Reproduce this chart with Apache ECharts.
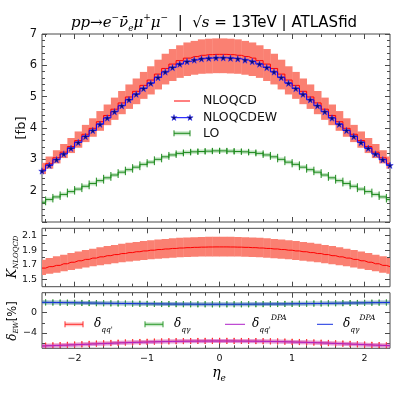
<!DOCTYPE html>
<html>
<head>
<meta charset="utf-8">
<script src="https://cdn.jsdelivr.net/npm/echarts@6/dist/echarts.min.js"></script>
<style>
  html, body { margin: 0; padding: 0; background: #fff; }
  #chart { width: 399px; height: 399px; }
</style>
</head>
<body>
<div id="chart"></div>
<script>
// bin centres in eta_e (bin width 0.1)
const etaBins = [-2.45,-2.35,-2.25,-2.15,-2.05,-1.95,-1.85,-1.75,-1.65,-1.55,-1.45,-1.35,-1.25,-1.15,-1.05,-0.95,-0.85,-0.75,-0.65,-0.55,-0.45,-0.35,-0.25,-0.15,-0.05,
  0.05,0.15,0.25,0.35,0.45,0.55,0.65,0.75,0.85,0.95,1.05,1.15,1.25,1.35,1.45,1.55,1.65,1.75,1.85,1.95,2.05,2.15,2.25,2.35];
const BIN = 0.1;

// top panel [fb]
const nloqcd = [2.68,2.86,3.05,3.23,3.41,3.60,3.80,3.99,4.20,4.40,4.60,4.80,4.99,5.17,5.36,5.53,5.72,5.90,6.04,6.15,6.23,6.28,6.32,6.34,6.35,
  6.35,6.34,6.32,6.28,6.23,6.15,6.04,5.90,5.72,5.53,5.36,5.17,4.99,4.80,4.60,4.40,4.20,3.99,3.80,3.60,3.41,3.23,3.05,2.86];
const nloqcdUp = [2.89,3.09,3.29,3.49,3.68,3.89,4.10,4.31,4.54,4.75,4.97,5.18,5.39,5.58,5.79,5.97,6.18,6.37,6.52,6.64,6.73,6.78,6.83,6.85,6.86,
  6.86,6.85,6.83,6.78,6.73,6.64,6.52,6.37,6.18,5.97,5.79,5.58,5.39,5.18,4.97,4.75,4.54,4.31,4.10,3.89,3.68,3.49,3.29,3.09];
const nloqcdLo = [2.53,2.70,2.87,3.04,3.20,3.37,3.55,3.72,3.91,4.09,4.26,4.44,4.61,4.76,4.93,5.07,5.23,5.39,5.50,5.60,5.66,5.70,5.73,5.74,5.75,
  5.75,5.74,5.73,5.70,5.66,5.60,5.50,5.39,5.23,5.07,4.93,4.76,4.61,4.44,4.26,4.09,3.91,3.72,3.55,3.37,3.20,3.04,2.87,2.70];
const nloqcdew = [2.63,2.81,2.99,3.17,3.35,3.54,3.73,3.92,4.12,4.32,4.52,4.71,4.90,5.08,5.26,5.43,5.61,5.79,5.93,6.04,6.12,6.17,6.21,6.23,6.24,
  6.24,6.23,6.21,6.17,6.12,6.04,5.93,5.79,5.61,5.43,5.26,5.08,4.90,4.71,4.52,4.32,4.12,3.92,3.73,3.54,3.35,3.17,2.99,2.81];
const lo = [1.63,1.72,1.80,1.88,1.97,2.05,2.14,2.23,2.32,2.41,2.50,2.59,2.67,2.75,2.84,2.91,3.00,3.08,3.14,3.19,3.22,3.24,3.25,3.26,3.27,
  3.27,3.26,3.25,3.24,3.22,3.19,3.14,3.08,3.00,2.91,2.84,2.75,2.67,2.59,2.50,2.41,2.32,2.23,2.14,2.05,1.97,1.88,1.80,1.72];

// middle panel K factor
const kfac = [1.655,1.675,1.692,1.714,1.735,1.755,1.774,1.792,1.809,1.825,1.840,1.854,1.867,1.879,1.890,1.900,1.909,1.917,1.924,1.930,1.935,1.939,1.942,1.944,1.945,
  1.945,1.944,1.942,1.939,1.935,1.930,1.924,1.917,1.909,1.900,1.890,1.879,1.867,1.854,1.840,1.825,1.809,1.792,1.774,1.755,1.735,1.714,1.692,1.675];
const kfacUp = [1.770,1.792,1.816,1.839,1.861,1.882,1.902,1.921,1.939,1.956,1.972,1.987,2.001,2.014,2.026,2.036,2.046,2.055,2.062,2.069,2.074,2.078,2.082,2.084,2.085,
  2.085,2.084,2.082,2.078,2.074,2.069,2.062,2.055,2.046,2.036,2.026,2.014,2.001,1.987,1.972,1.956,1.939,1.921,1.902,1.882,1.861,1.839,1.816,1.792];
const kfacLo = [1.560,1.578,1.590,1.610,1.629,1.647,1.664,1.680,1.695,1.709,1.722,1.735,1.746,1.757,1.767,1.776,1.784,1.791,1.797,1.802,1.806,1.810,1.812,1.814,1.815,
  1.815,1.814,1.812,1.810,1.806,1.802,1.797,1.791,1.784,1.776,1.767,1.757,1.746,1.735,1.722,1.709,1.695,1.680,1.664,1.647,1.629,1.610,1.590,1.578];

// bottom panel delta_EW [%]
const dQQ = [-6.62,-6.56,-6.50,-6.45,-6.39,-6.33,-6.27,-6.20,-6.14,-6.08,-6.02,-5.97,-5.92,-5.87,-5.83,-5.79,-5.75,-5.72,-5.69,-5.67,-5.65,-5.64,-5.63,-5.62,-5.62,
  -5.62,-5.62,-5.63,-5.64,-5.65,-5.67,-5.69,-5.72,-5.75,-5.79,-5.83,-5.87,-5.92,-5.97,-6.02,-6.08,-6.14,-6.20,-6.27,-6.33,-6.39,-6.45,-6.50,-6.56];
const dQQdpa = [-6.63,-6.58,-6.53,-6.48,-6.42,-6.36,-6.30,-6.24,-6.18,-6.12,-6.06,-6.01,-5.96,-5.91,-5.87,-5.83,-5.79,-5.76,-5.73,-5.71,-5.69,-5.68,-5.67,-5.66,-5.66,
  -5.66,-5.66,-5.67,-5.68,-5.69,-5.71,-5.73,-5.76,-5.79,-5.83,-5.87,-5.91,-5.96,-6.01,-6.06,-6.12,-6.18,-6.24,-6.30,-6.36,-6.42,-6.48,-6.53,-6.58];
const dQA = [2.07,2.05,2.03,2.01,1.99,1.96,1.94,1.92,1.90,1.88,1.86,1.84,1.82,1.80,1.78,1.76,1.75,1.73,1.72,1.71,1.70,1.69,1.69,1.68,1.68,
  1.68,1.68,1.69,1.69,1.70,1.71,1.72,1.73,1.75,1.76,1.78,1.80,1.82,1.84,1.86,1.88,1.90,1.92,1.94,1.96,1.99,2.01,2.03,2.05];
const dQAdpa = [2.08,2.06,2.04,2.02,2.00,1.97,1.95,1.93,1.91,1.89,1.87,1.85,1.83,1.81,1.80,1.78,1.76,1.75,1.74,1.73,1.72,1.71,1.70,1.70,1.70,
  1.70,1.70,1.70,1.71,1.72,1.73,1.74,1.75,1.76,1.78,1.80,1.81,1.83,1.85,1.87,1.89,1.91,1.93,1.95,1.97,2.00,2.02,2.04,2.06];

// axis ticks
const X_MIN = -2.45, X_MAX = 2.35;
const xMajor = [-2, -1, 0, 1, 2];
const xMinor = [-2.4,-2.2,-1.8,-1.6,-1.4,-1.2,-0.8,-0.6,-0.4,-0.2,0.2,0.4,0.6,0.8,1.2,1.4,1.6,1.8,2.2];

const panels = [
  { top: 34, height: 188, min: 1, max: 7, major: [1,2,3,4,5,6,7],
    minor: [1.2,1.4,1.6,1.8,2.2,2.4,2.6,2.8,3.2,3.4,3.6,3.8,4.2,4.4,4.6,4.8,5.2,5.4,5.6,5.8,6.2,6.4,6.6,6.8],
    labels: [2,3,4,5,6,7], fs: 11.5 },
  { top: 228.3, height: 58.4, min: 1.4, max: 2.2, major: [1.5,1.7,1.9,2.1], minor: [1.6,1.8,2.0],
    labels: [1.5,1.7,1.9,2.1], fs: 9.5 },
  { top: 292.7, height: 55.6, min: -7.1, max: 4, major: [-4,0], minor: [-6,-2,2],
    labels: [-4,0], fs: 9.5 }
];

const FRAME = '#4a4a4a';
const fmt = v => (v < 0 ? '\u2212' : '') + Math.abs(v);

const grids = [], xAxes = [], yAxes = [], mainX = [], mainY = [];

function tickAxis(grid, pos, min, max, ticks, len, labels, fs) {
  return {
    type: 'value', gridIndex: grid, position: pos, min: min, max: max,
    axisLine: { show: false, onZero: false },
    splitLine: { show: false },
    axisTick: { show: true, inside: true, length: len, customValues: ticks, lineStyle: { color: FRAME, width: 1 } },
    axisLabel: labels ? { show: true, customValues: labels, fontSize: fs, color: '#111', fontFamily: 'DejaVu Sans', margin: 5, formatter: fmt }
                      : { show: false }
  };
}

panels.forEach((p, g) => {
  grids.push({ left: 42, width: 348, top: p.top, height: p.height, show: true, borderColor: FRAME, borderWidth: 1, backgroundColor: 'transparent' });
  mainX.push(xAxes.length);
  xAxes.push(tickAxis(g, 'bottom', X_MIN, X_MAX, xMajor, 5, g === 2 ? xMajor : null, 9.5));
  xAxes.push(tickAxis(g, 'bottom', X_MIN, X_MAX, xMinor, 3));
  xAxes.push(tickAxis(g, 'top', X_MIN, X_MAX, xMajor, 5));
  xAxes.push(tickAxis(g, 'top', X_MIN, X_MAX, xMinor, 3));
  mainY.push(yAxes.length);
  yAxes.push(tickAxis(g, 'left', p.min, p.max, p.major, 5, p.labels, p.fs));
  yAxes.push(tickAxis(g, 'left', p.min, p.max, p.minor, 3));
  yAxes.push(tickAxis(g, 'right', p.min, p.max, p.major, 5));
  yAxes.push(tickAxis(g, 'right', p.min, p.max, p.minor, 3));
});

function coordRect(params) {
  return { x: params.coordSys.x, y: params.coordSys.y, width: params.coordSys.width, height: params.coordSys.height };
}

// filled band drawn bin by bin
function bandItem(color) {
  return function (params, api) {
    const x = api.value(0);
    const a = api.coord([x - BIN / 2, api.value(2)]);
    const b = api.coord([x + BIN / 2, api.value(1)]);
    const shape = echarts.graphic.clipRectByRect(
      { x: a[0], y: a[1], width: b[0] - a[0] + 0.4, height: b[1] - a[1] }, coordRect(params));
    return shape && { type: 'rect', shape: shape, style: { fill: color } };
  };
}

// horizontal error bar spanning the bin, with caps at the edges
function errItem(color, pale) {
  return function (params, api) {
    const x = api.value(0), y = api.value(1);
    const a = api.coord([x - BIN / 2, y]);
    const b = api.coord([x + BIN / 2, y]);
    const halo = echarts.graphic.clipRectByRect({ x: a[0], y: a[1] - 2, width: b[0] - a[0], height: 4 }, coordRect(params));
    const kids = [];
    if (halo) kids.push({ type: 'rect', shape: halo, style: { fill: pale } });
    kids.push({ type: 'line', shape: { x1: a[0], y1: a[1], x2: b[0], y2: b[1] }, style: { stroke: color, lineWidth: 1 } });
    kids.push({ type: 'line', shape: { x1: a[0], y1: a[1] - 3, x2: a[0], y2: a[1] + 3 }, style: { stroke: color, lineWidth: 1 } });
    kids.push({ type: 'line', shape: { x1: b[0], y1: b[1] - 3, x2: b[0], y2: b[1] + 3 }, style: { stroke: color, lineWidth: 1 } });
    return { type: 'group', children: kids };
  };
}

const STAR = 'path://M50,0 L61,35 L98,35 L68,57 L79,91 L50,70 L21,91 L32,57 L2,35 L39,35 Z';
const STAR_PTS = [[50,0],[61,35],[98,35],[68,57],[79,91],[50,70],[21,91],[32,57],[2,35],[39,35]];
const pts = arr => etaBins.map((x, i) => [x, arr[i]]);
const band = (lo_, hi_) => etaBins.map((x, i) => [x, lo_[i], hi_[i]]);

const series = [
  { type: 'custom', name: 'NLOQCD band', xAxisIndex: mainX[0], yAxisIndex: mainY[0], renderItem: bandItem('#fa8072'), data: band(nloqcdLo, nloqcdUp), clip: true, z: 1 },
  { type: 'custom', name: 'LO', xAxisIndex: mainX[0], yAxisIndex: mainY[0], renderItem: errItem('#1f8a1f', 'rgba(60,170,60,0.3)'), data: pts(lo), clip: true, z: 2 },
  { type: 'line', name: 'NLOQCD', xAxisIndex: mainX[0], yAxisIndex: mainY[0], step: 'middle', data: pts(nloqcd), symbol: 'none', lineStyle: { color: '#ff0000', width: 1 }, z: 3 },
  { type: 'line', name: 'NLOQCDEW', xAxisIndex: mainX[0], yAxisIndex: mainY[0], step: 'middle', data: pts(nloqcdew), symbol: STAR, symbolSize: 6.5,
    itemStyle: { color: '#0b0b6e', borderColor: '#2a2aff', borderWidth: 0.5 }, lineStyle: { color: '#0000ff', width: 1 }, z: 4 },

  { type: 'custom', name: 'K band', xAxisIndex: mainX[1], yAxisIndex: mainY[1], renderItem: bandItem('#fa8072'), data: band(kfacLo, kfacUp), clip: true, z: 1 },
  { type: 'line', name: 'K', xAxisIndex: mainX[1], yAxisIndex: mainY[1], step: 'middle', data: pts(kfac), symbol: 'none', lineStyle: { color: '#ff0000', width: 1 }, z: 3 },

  { type: 'custom', name: 'dqq', xAxisIndex: mainX[2], yAxisIndex: mainY[2], renderItem: errItem('#ff2a2a', 'rgba(255,90,90,0.35)'), data: pts(dQQ), clip: true, z: 2 },
  { type: 'custom', name: 'dqa', xAxisIndex: mainX[2], yAxisIndex: mainY[2], renderItem: errItem('#2e9a2e', 'rgba(60,170,60,0.3)'), data: pts(dQA), clip: true, z: 2 },
  { type: 'line', name: 'dqq dpa halo', xAxisIndex: mainX[2], yAxisIndex: mainY[2], step: 'middle', data: pts(dQQdpa), symbol: 'none', lineStyle: { color: 'rgba(190,90,225,0.45)', width: 4 }, z: 3 },
  { type: 'line', name: 'dqq dpa', xAxisIndex: mainX[2], yAxisIndex: mainY[2], step: 'middle', data: pts(dQQdpa), symbol: 'none', lineStyle: { color: '#b020c8', width: 1 }, z: 4 },
  { type: 'line', name: 'dqa dpa halo', xAxisIndex: mainX[2], yAxisIndex: mainY[2], step: 'middle', data: pts(dQAdpa), symbol: 'none', lineStyle: { color: 'rgba(80,100,230,0.35)', width: 4 }, z: 3 },
  { type: 'line', name: 'dqa dpa', xAxisIndex: mainX[2], yAxisIndex: mainY[2], step: 'middle', data: pts(dQAdpa), symbol: 'none', lineStyle: { color: '#1530e0', width: 1 }, z: 4 }
];

// text and legends
const SERIF = 'DejaVu Serif', SANS = 'DejaVu Sans';
const mathRich = {
  m: { fontFamily: SERIF, fontStyle: 'italic', fontSize: 15, color: '#111' },
  u: { fontFamily: SERIF, fontSize: 15, color: '#111' },
  s: { fontFamily: SERIF, fontStyle: 'italic', fontSize: 9, color: '#111', verticalAlign: 'top', lineHeight: 20 },
  b: { fontFamily: SERIF, fontStyle: 'italic', fontSize: 9, color: '#111', verticalAlign: 'bottom', lineHeight: 20 },
  n: { fontFamily: SANS, fontSize: 15, color: '#111' }
};

function seg(x1, y1, x2, y2, color, w) {
  return { type: 'line', shape: { x1: x1, y1: y1, x2: x2, y2: y2 }, style: { stroke: color, lineWidth: w || 1 }, silent: true };
}
function txt(x, y, text, extra) {
  return { type: 'text', x: x, y: y, style: Object.assign({ text: text, fill: '#111', fontFamily: SANS, fontSize: 12.5, verticalAlign: 'middle' }, extra || {}) };
}
function star(x, y) {
  return { type: 'polygon', shape: { points: STAR_PTS.map(p => [x + (p[0] - 50) * 0.065, y + (p[1] - 48) * 0.065]) },
           style: { fill: '#0b0b6e', stroke: '#2a2aff', lineWidth: 0.5 } };
}
function capLegend(x1, x2, y, color, pale) {
  return [
    { type: 'rect', shape: { x: x1, y: y - 2, width: x2 - x1, height: 4 }, style: { fill: pale } },
    seg(x1, y, x2, y, color), seg(x1, y - 3, x1, y + 3, color), seg(x2, y - 3, x2, y + 3, color)
  ];
}

const deltaRich = {
  d: { fontFamily: SERIF, fontStyle: 'italic', fontSize: 12, color: '#111' },
  b: { fontFamily: SERIF, fontStyle: 'italic', fontSize: 7.5, color: '#111', verticalAlign: 'bottom', lineHeight: 20 },
  t: { fontFamily: SERIF, fontStyle: 'italic', fontSize: 7.5, color: '#111', verticalAlign: 'top', lineHeight: 20 }
};
const axisNameRich = {
  k: { fontFamily: SERIF, fontStyle: 'italic', fontSize: 13, color: '#111', lineHeight: 14 },
  d: { fontFamily: SERIF, fontStyle: 'italic', fontSize: 12, color: '#111', lineHeight: 14 },
  b: { fontFamily: SERIF, fontStyle: 'italic', fontSize: 7, color: '#111', verticalAlign: 'bottom', lineHeight: 14 },
  n: { fontFamily: SANS, fontSize: 11.5, color: '#111', lineHeight: 14 }
};

const graphics = [
  // title
  { type: 'text', x: 214, y: 23, style: { text: '{m|pp}{u|→}{m|e}{s|−}{m|ν̄}{b|e}{m|μ}{s|+}{m|μ}{s|−}{n|  |  }{u|√}{m|s}{n| = 13TeV | ATLASfid}',
      rich: mathRich, align: 'center', verticalAlign: 'middle' } },
  // y axis names
  { type: 'text', x: 22, y: 128, rotation: Math.PI / 2, style: { text: '[fb]', fill: '#111', fontFamily: SANS, fontSize: 13, align: 'center', verticalAlign: 'middle' } },
  { type: 'text', x: 13, y: 257, rotation: Math.PI / 2,
    style: { text: '{k|K}{b|NLOQCD}', align: 'center', verticalAlign: 'middle', rich: axisNameRich } },
  { type: 'text', x: 13, y: 321, rotation: Math.PI / 2,
    style: { text: '{d|δ}{b|EW}{n|[%]}', align: 'center', verticalAlign: 'middle', rich: axisNameRich } },
  // x axis name
  { type: 'text', x: 219, y: 373, style: { text: '{m|η}{b|e}', align: 'center', verticalAlign: 'middle',
      rich: { m: { fontFamily: SERIF, fontStyle: 'italic', fontSize: 14, color: '#111' },
              b: { fontFamily: SERIF, fontStyle: 'italic', fontSize: 9, color: '#111', verticalAlign: 'bottom', lineHeight: 20 } } } },

  // top legend
  seg(174, 101, 190, 101, '#ff0000'),
  txt(203, 101, 'NLOQCD'),
  seg(174, 117.7, 190, 117.7, '#0000ff'),
  star(174, 117.7), star(190, 117.7),
  txt(203, 117.7, 'NLOQCDEW'),
  ...capLegend(174, 190, 133.3, '#1f8a1f', 'rgba(60,170,60,0.3)'),
  txt(203, 133.3, 'LO'),

  // bottom legend
  ...capLegend(65, 83, 324.3, '#ff2a2a', 'rgba(255,90,90,0.35)'),
  { type: 'text', x: 94, y: 324.3, style: { text: "{d|δ}{b|qq'}", rich: deltaRich, verticalAlign: 'middle' } },
  ...capLegend(145, 163, 324.3, '#2e9a2e', 'rgba(60,170,60,0.3)'),
  { type: 'text', x: 174, y: 324.3, style: { text: '{d|δ}{b|qγ}', rich: deltaRich, verticalAlign: 'middle' } },
  seg(225, 324.3, 245, 324.3, '#b020c8'),
  { type: 'text', x: 252, y: 324.3, style: { text: "{d|δ}{b|qq'}{t|DPA}", rich: deltaRich, verticalAlign: 'middle' } },
  seg(317, 324.3, 333, 324.3, '#1530e0'),
  { type: 'text', x: 343, y: 324.3, style: { text: '{d|δ}{b|qγ}{t|DPA}', rich: deltaRich, verticalAlign: 'middle' } }
];

const chart = echarts.init(document.getElementById('chart'), null, { renderer: 'canvas' });
chart.setOption({
  animation: false,
  backgroundColor: '#fff',
  grid: grids,
  xAxis: xAxes,
  yAxis: yAxes,
  series: series,
  graphic: graphics
});
</script>
</body>
</html>
